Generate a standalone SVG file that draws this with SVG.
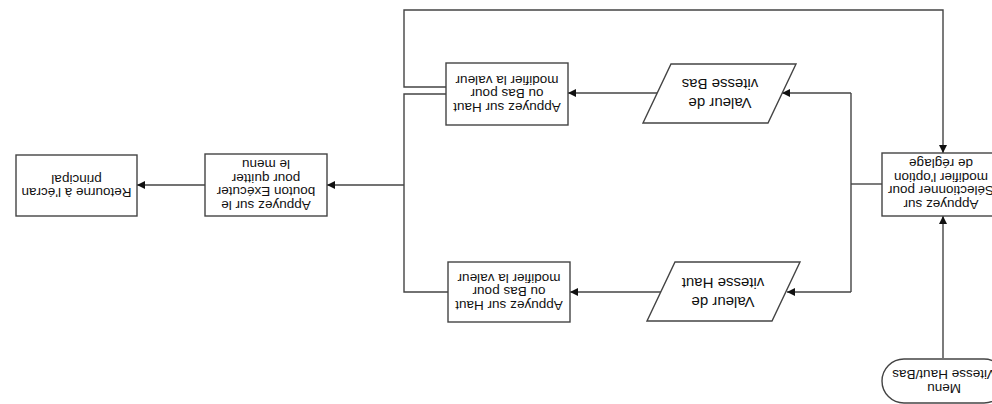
<svg xmlns="http://www.w3.org/2000/svg" width="992" height="404" viewBox="0 0 992 404">
<defs>
<marker id="arr" viewBox="0 0 10 10" refX="10" refY="5" markerWidth="8" markerHeight="8" markerUnits="userSpaceOnUse" orient="auto">
<path d="M0,0 L10,5 L0,10 z" fill="#111"/>
</marker>
<style>
.box{fill:#fff;stroke:#444;stroke-width:1.4}
.ln{fill:none;stroke:#444;stroke-width:1.4}
.t{font-family:"Liberation Sans",Arial,sans-serif;font-size:13.5px;fill:#111;text-anchor:middle}
.tp{font-family:"Liberation Sans",Arial,sans-serif;font-size:15px;fill:#111;text-anchor:middle}
</style>
</defs>
<rect width="992" height="404" fill="#fff"/>
<g id="connectors">
<path class="ln" d="M943,358 L943,216" marker-end="url(#arr)"/>
<path class="ln" d="M882,184 L851,184"/>
<path class="ln" d="M851,93 L851,292"/>
<path class="ln" d="M851,93 L782,93" marker-end="url(#arr)"/>
<path class="ln" d="M851,292 L787,292" marker-end="url(#arr)"/>
<path class="ln" d="M657,93 L568,93" marker-end="url(#arr)"/>
<path class="ln" d="M661,292 L570,292" marker-end="url(#arr)"/>
<path class="ln" d="M446,87 L404,87 L404,10 L943,10 L943,153" marker-end="url(#arr)"/>
<path class="ln" d="M446,94 L404,94 L404,292 L448,292"/>
<path class="ln" d="M404,185 L327,185" marker-end="url(#arr)"/>
<path class="ln" d="M205,185 L137,185" marker-end="url(#arr)"/>
</g>
<g id="menu">
<rect class="box" x="882" y="359" width="124" height="44" rx="22" ry="22"/>
<g transform="rotate(180 944 382)">
<text class="t" x="944" y="379.7">Menu</text>
<text class="t" x="944" y="393.7">Vitesse Haut/Bas</text>
</g>
</g>
<g id="selectionner">
<rect class="box" x="882" y="153" width="118" height="63"/>
<g transform="rotate(180 941 184)">
<text class="t" x="941" y="168.5">Appuyez sur</text>
<text class="t" x="941" y="182">Sélectionner pour</text>
<text class="t" x="941" y="195.5">modifier l'option</text>
<text class="t" x="941" y="209">de réglage</text>
</g>
</g>
<g id="valeur-bas">
<polygon class="box" points="671,64 796,64 768,123 643,123"/>
<g transform="rotate(180 720 93)">
<text class="tp" x="720" y="88.5">Valeur de</text>
<text class="tp" x="720" y="107.5">vitesse Bas</text>
</g>
</g>
<g id="valeur-haut">
<polygon class="box" points="675,262 800,262 772,321 647,321"/>
<g transform="rotate(180 723 292)">
<text class="tp" x="723" y="287.5">Valeur de</text>
<text class="tp" x="723" y="306.5">vitesse Haut</text>
</g>
</g>
<g id="modifier-bas">
<rect class="box" x="446" y="63" width="122" height="62"/>
<g transform="rotate(180 507 94)">
<text class="t" x="507" y="85.2">Appuyez sur Haut</text>
<text class="t" x="507" y="98.7">ou Bas pour</text>
<text class="t" x="507" y="112.2">modifier la valeur</text>
</g>
</g>
<g id="modifier-haut">
<rect class="box" x="448" y="262" width="122" height="60"/>
<g transform="rotate(180 509 292)">
<text class="t" x="509" y="283.2">Appuyez sur Haut</text>
<text class="t" x="509" y="296.7">ou Bas pour</text>
<text class="t" x="509" y="310.2">modifier la valeur</text>
</g>
</g>
<g id="executer">
<rect class="box" x="205" y="154" width="122" height="62"/>
<g transform="rotate(180 266 185)">
<text class="t" x="266" y="169.5">Appuyez sur le</text>
<text class="t" x="266" y="183">bouton Exécuter</text>
<text class="t" x="266" y="196.5">pour quitter</text>
<text class="t" x="266" y="210">le menu</text>
</g>
</g>
<g id="retourne">
<rect class="box" x="16" y="155" width="121" height="61"/>
<g transform="rotate(180 76.5 186)">
<text class="t" x="76.5" y="183.9">Retourne à l'écran</text>
<text class="t" x="76.5" y="197.4">principal</text>
</g>
</g>
</svg>
